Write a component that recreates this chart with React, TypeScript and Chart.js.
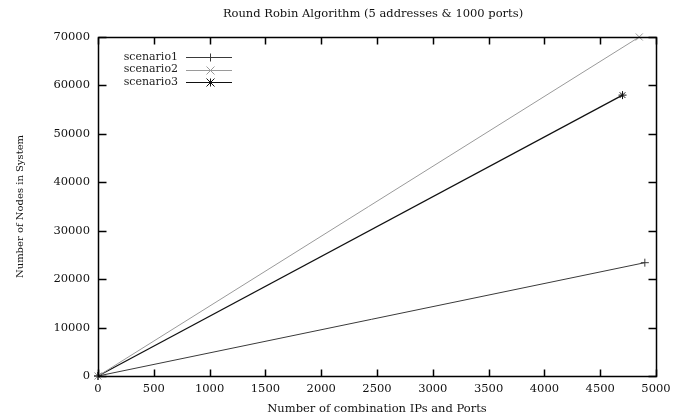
import React, { useEffect, useRef } from "react";
import { Chart, registerables } from "chart.js";

Chart.register(...registerables);

const seriesLabels = ["scenario1", "scenario2", "scenario3"];
const scenario1X = [0, 4900];
const scenario1Y = [0, 23400];
const scenario2X = [0, 4850];
const scenario2Y = [0, 70000];
const scenario3X = [0, 4700];
const scenario3Y = [0, 58000];
const titleText = "Round Robin Algorithm (5 addresses & 1000 ports)";
const xTitle = "Number of combination IPs and Ports";
const yTitle = "Number of Nodes in System";

const FONT = "'DejaVu Serif', 'Liberation Serif', serif";

const toPts = (xs: number[], ys: number[]) => xs.map((x, i) => ({ x, y: ys[i] }));

const frameAndLegend = {
  id: "frameAndLegend",
  afterDraw(chart: any) {
    const { ctx, chartArea: a, scales } = chart;
    ctx.save();
    const L = Math.round(a.left) + 0.5;
    const R = Math.round(a.right) + 0.5;
    const T = Math.round(a.top) + 0.5;
    const B = Math.round(a.bottom) + 0.5;
    ctx.strokeStyle = "#000";
    ctx.lineWidth = 1.5;
    ctx.lineCap = "square";
    ctx.beginPath();
    ctx.rect(L, T, R - L, B - T);
    ctx.stroke();
    ctx.lineCap = "butt";
    ctx.beginPath();
    scales.x.ticks.forEach((t: any) => {
      const px = Math.round(scales.x.getPixelForValue(t.value)) + 0.5;
      ctx.moveTo(px, B);
      ctx.lineTo(px, B - 7);
      ctx.moveTo(px, T);
      ctx.lineTo(px, T + 7);
    });
    scales.y.ticks.forEach((t: any) => {
      const py = Math.round(scales.y.getPixelForValue(t.value)) + 0.5;
      ctx.moveTo(L, py);
      ctx.lineTo(L + 8, py);
      ctx.moveTo(R, py);
      ctx.lineTo(R - 8, py);
    });
    ctx.stroke();
    // title
    ctx.fillStyle = "#111";
    ctx.font = `11.5px ${FONT}`;
    ctx.textAlign = "center";
    ctx.textBaseline = "middle";
    ctx.fillText(titleText, (a.left + a.right) / 2 - 4, 14);
    // legend
    ctx.font = `11px ${FONT}`;
    ctx.textAlign = "right";
    ctx.textBaseline = "middle";
    const textRight = 178;
    chart.data.datasets.forEach((ds: any, i: number) => {
      const y = 57 + i * 12.5;
      ctx.fillStyle = "#222";
      ctx.fillText(ds.label, textRight, y);
      ctx.strokeStyle = ds.borderColor;
      ctx.lineWidth = 1;
      const cy = Math.round(y) + 0.5;
      ctx.beginPath();
      ctx.moveTo(186, cy);
      ctx.lineTo(232, cy);
      ctx.stroke();
      ctx.beginPath();
      const cx = 210.5;
      const r = 4;
      if (ds.pointStyle === "cross") {
        ctx.moveTo(cx, cy - r); ctx.lineTo(cx, cy + r);
        ctx.moveTo(cx - r, cy); ctx.lineTo(cx + r, cy);
      } else if (ds.pointStyle === "crossRot") {
        ctx.moveTo(cx - r, cy - r); ctx.lineTo(cx + r, cy + r);
        ctx.moveTo(cx - r, cy + r); ctx.lineTo(cx + r, cy - r);
      } else {
        ctx.moveTo(cx, cy - r); ctx.lineTo(cx, cy + r);
        ctx.moveTo(cx - r, cy - r); ctx.lineTo(cx + r, cy + r);
        ctx.moveTo(cx - r, cy + r); ctx.lineTo(cx + r, cy - r);
      }
      ctx.stroke();
    });
    ctx.restore();
  },
};

export default function App() {
  const ref = useRef<HTMLCanvasElement>(null);
  useEffect(() => {
    if (!ref.current) return;
    const chart = new Chart(ref.current, {
      type: "scatter",
      data: {
        datasets: [
          {
            label: seriesLabels[0],
            data: toPts(scenario1X, scenario1Y),
            showLine: true,
            borderColor: "#3a3a3a",
            backgroundColor: "#3a3a3a",
            borderWidth: 1,
            pointStyle: "cross",
            pointRadius: 4,
            pointBorderWidth: 1,
            clip: false,
          },
          {
            label: seriesLabels[1],
            data: toPts(scenario2X, scenario2Y),
            showLine: true,
            borderColor: "#9a9a9a",
            backgroundColor: "#9a9a9a",
            borderWidth: 1,
            pointStyle: "crossRot",
            pointRadius: 5,
            pointBorderWidth: 1,
            clip: false,
          },
          {
            label: seriesLabels[2],
            data: toPts(scenario3X, scenario3Y),
            showLine: true,
            borderColor: "#111",
            backgroundColor: "#111",
            borderWidth: 1.2,
            pointStyle: "star",
            pointRadius: 4,
            pointBorderWidth: 1,
            clip: false,
          },
        ],
      },
      options: {
        animation: false,
        responsive: false,
        maintainAspectRatio: false,
        layout: { padding: { left: 0, right: 29, top: 37, bottom: 0 } },
        plugins: {
          legend: { display: false },
          tooltip: { enabled: false },
          title: { display: false },
        },
        scales: {
          x: {
            type: "linear",
            min: 0,
            max: 5000,
            grid: { display: false, drawTicks: false },
            border: { display: false },
            ticks: {
              stepSize: 500,
              color: "#111",
              padding: 6,
              maxRotation: 0,
              font: { family: FONT, size: 11.5 },
              callback: (v: any) => String(v),
            },
            title: {
              display: true,
              text: xTitle,
              color: "#111",
              font: { family: FONT, size: 11.5 },
              padding: { top: 0, bottom: -4 },
            },
            afterFit: (s: any) => { s.height = 36; },
          },
          y: {
            type: "linear",
            min: 0,
            max: 70000,
            grid: { display: false, drawTicks: false },
            border: { display: false },
            ticks: {
              stepSize: 10000,
              color: "#111",
              padding: 8,
              font: { family: FONT, size: 11.5 },
              callback: (v: any) => String(v),
            },
            title: {
              display: true,
              text: yTitle,
              color: "#111",
              font: { family: FONT, size: 10 },
              padding: { top: 14, bottom: 0 },
            },
            afterFit: (s: any) => { s.width = 98; },
          },
        },
      },
      plugins: [frameAndLegend],
    });
    return () => chart.destroy();
  }, []);
  return (
    <div style={{ position: "fixed", left: 0, top: 0, width: 685, height: 412, background: "#fff" }}>
      <canvas ref={ref} width={685} height={412} />
    </div>
  );
}
